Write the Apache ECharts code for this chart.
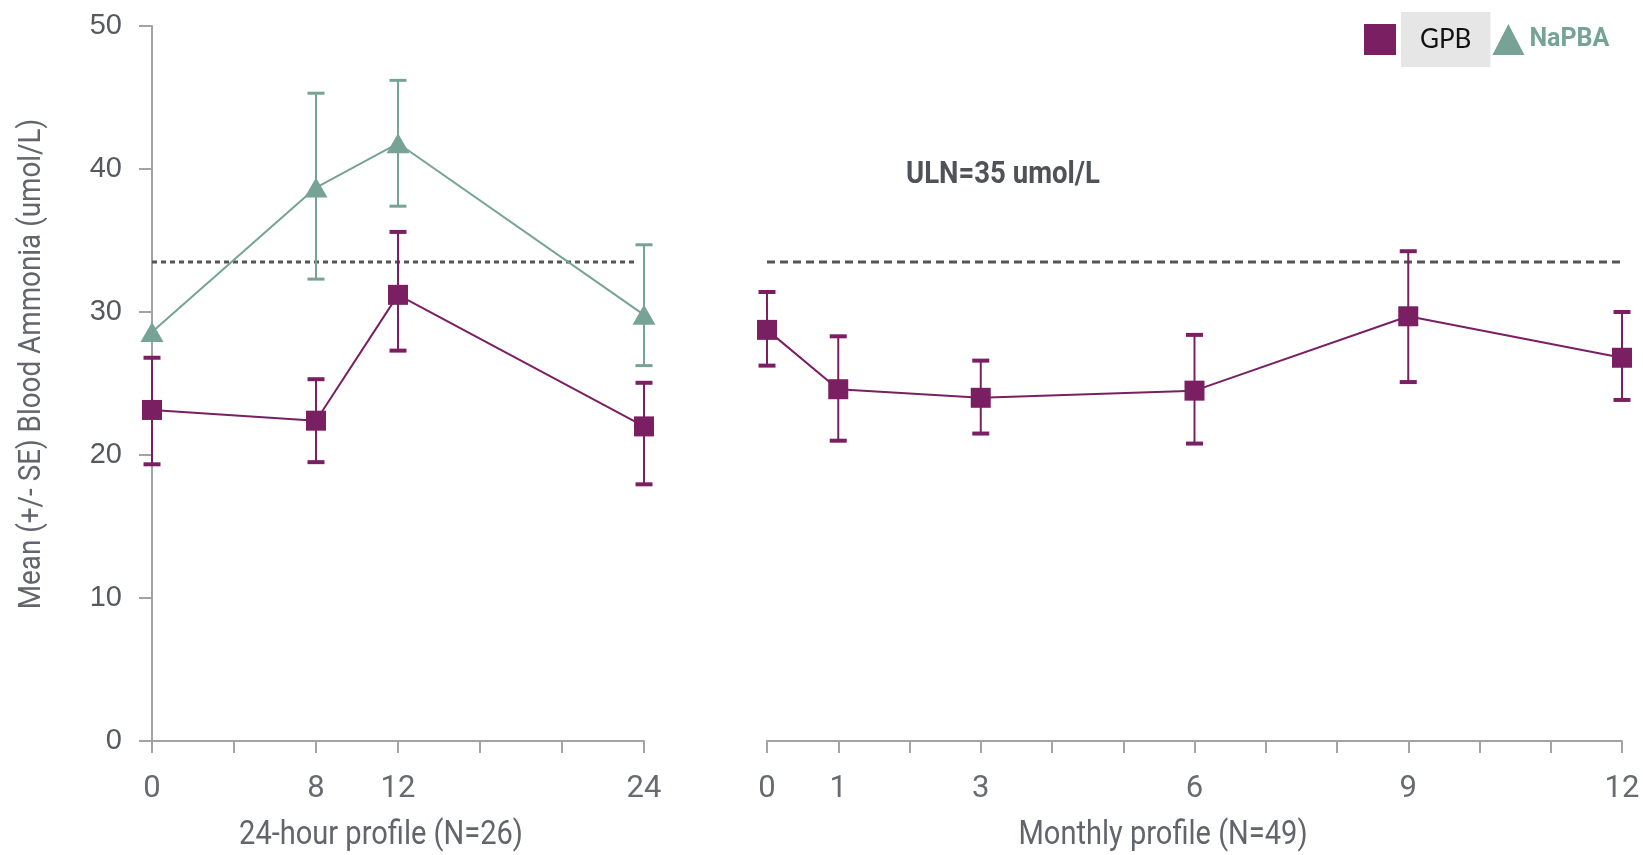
<!DOCTYPE html>
<html>
<head>
<meta charset="utf-8">
<script src="https://cdn.jsdelivr.net/npm/echarts@6/dist/echarts.min.js"></script>
<style>
html,body{margin:0;padding:0;background:#fff;}
#chart{width:1643px;height:855px;}
</style>
</head>
<body>
<div id="chart"></div>
<script>
// ---- data ----
const hourX = [0, 8, 12, 24];
const gpbHourMean = [23.15, 22.4, 31.2, 22.0];
const gpbHourLow = [19.35, 19.5, 27.3, 17.95];
const gpbHourHigh = [26.8, 25.3, 35.6, 25.05];
const napbaHourMean = [28.6, 38.7, 41.8, 29.8];
const napbaHourLow = [null, 32.3, 37.4, 26.25];
const napbaHourHigh = [null, 45.3, 46.2, 34.7];

const monthX = [0, 1, 3, 6, 9, 12];
const gpbMonthMean = [28.75, 24.6, 24.0, 24.5, 29.7, 26.8];
const gpbMonthLow = [26.25, 21.0, 21.5, 20.8, 25.1, 23.85];
const gpbMonthHigh = [31.4, 28.3, 26.6, 28.4, 34.25, 30.0];

const hourTickLabels = [0, 8, 12, 24];
const monthTickLabels = [0, 1, 3, 6, 9, 12];
const yTickLabels = [0, 10, 20, 30, 40, 50];

const ulnValue = 33.5;
const ulnHourRange = [0, 23.66];
const ulnMonthRange = [0, 12.15];

const legendNames = ['GPB', 'NaPBA'];
const ulnLabel = 'ULN=35 umol/L';
const yTitle = 'Mean (+/- SE) Blood Ammonia (umol/L)';
const hourTitle = '24-hour profile (N=26)';
const monthTitle = 'Monthly profile (N=49)';

// ---- styles ----
const PURPLE = '#7a1f62';
const TEAL = '#76a396';
const AXIS = '#a3a3a3';
const narrow = 'Roboto, "Liberation Sans", sans-serif';

const pairs = (xs, ys) => xs.map((x, i) => [x, ys[i]]);
const errData = (xs, lo, hi) => xs.map((x, i) => [x, lo[i], hi[i]]).filter(d => d[1] != null);

function errRender(capW, capH) {
  return function (params, api) {
    const x = api.value(0), lo = api.value(1), hi = api.value(2);
    const pHi = api.coord([x, hi]);
    const pLo = api.coord([x, lo]);
    const color = api.visual('color');
    return {
      type: 'group',
      children: [
        {type: 'line', shape: {x1: pHi[0], y1: pHi[1], x2: pLo[0], y2: pLo[1]}, style: {stroke: color, lineWidth: 2}},
        {type: 'rect', shape: {x: pHi[0] - capW / 2, y: pHi[1] - capH / 2, width: capW, height: capH}, style: {fill: color}},
        {type: 'rect', shape: {x: pLo[0] - capW / 2, y: pLo[1] - capH / 2, width: capW, height: capH}, style: {fill: color}}
      ]
    };
  };
}

const chart = echarts.init(document.getElementById('chart'));

const xLabelStyle = {fontFamily: narrow, fontSize: 31, color: '#676b71', margin: 33};

chart.setOption({
  animation: false,
  backgroundColor: '#fff',
  grid: [
    {left: 152, width: 492, top: 26, height: 715},
    {left: 767, width: 855, top: 26, height: 715}
  ],
  xAxis: [
    {
      gridIndex: 0, type: 'value', min: 0, max: 24, interval: 4,
      axisLine: {show: true, lineStyle: {color: AXIS, width: 2}},
      axisTick: {show: true, length: 12, lineStyle: {color: AXIS, width: 2}},
      axisLabel: Object.assign({}, xLabelStyle, {
        formatter: v => hourTickLabels.indexOf(v) >= 0 ? String(v) : ''
      }),
      splitLine: {show: false}
    },
    {
      gridIndex: 1, type: 'value', min: 0, max: 12, interval: 1,
      axisLine: {show: true, lineStyle: {color: AXIS, width: 2}},
      axisTick: {show: true, length: 12, lineStyle: {color: AXIS, width: 2}},
      axisLabel: Object.assign({}, xLabelStyle, {
        formatter: v => monthTickLabels.indexOf(v) >= 0 ? String(v) : ''
      }),
      splitLine: {show: false}
    }
  ],
  yAxis: [
    {
      gridIndex: 0, type: 'value', min: 0, max: 50, interval: 10,
      axisLine: {show: true, lineStyle: {color: AXIS, width: 2}},
      axisTick: {show: true, length: 13, lineStyle: {color: AXIS, width: 2}},
      axisLabel: {
        fontFamily: '"Liberation Sans", Arial, sans-serif', fontSize: 29, color: '#55595f', margin: 30,
        formatter: v => yTickLabels.indexOf(v) >= 0 ? String(v) : ''
      },
      splitLine: {show: false}
    },
    {
      gridIndex: 1, type: 'value', min: 0, max: 50, interval: 10,
      axisLine: {show: false}, axisTick: {show: false}, axisLabel: {show: false}, splitLine: {show: false}
    }
  ],
  legend: {
    left: 1359, top: 7,
    itemWidth: 32, itemHeight: 31, itemGap: 2,
    selectedMode: false,
    data: [
      {name: legendNames[0], icon: 'rect',
       textStyle: {fontFamily: 'Lato, "Open Sans", sans-serif', fontSize: 26, color: '#111', backgroundColor: '#e6e6e6', padding: [15, 19, 14, 19]}},
      {name: legendNames[1], icon: 'triangle',
       textStyle: {fontFamily: narrow, fontSize: 25, fontWeight: 'bold', color: TEAL}}
    ]
  },
  graphic: [
    {type: 'text', x: 32, y: 364, rotation: Math.PI / 2, scaleX: 0.87,
     style: {text: yTitle, fontFamily: narrow, fontSize: 32, fill: '#62656b', align: 'center', verticalAlign: 'middle'}},
    {type: 'text', x: 381, y: 836, scaleX: 0.88,
     style: {text: hourTitle, fontFamily: narrow, fontSize: 33, fill: '#62656b', align: 'center', verticalAlign: 'middle'}},
    {type: 'text', x: 1163, y: 836, scaleX: 0.88,
     style: {text: monthTitle, fontFamily: narrow, fontSize: 33, fill: '#62656b', align: 'center', verticalAlign: 'middle'}},
    {type: 'text', x: 1003, y: 175, scaleX: 0.86,
     style: {text: ulnLabel, fontFamily: narrow, fontSize: 32, fontWeight: 'bold', fill: '#4f5258', align: 'center', verticalAlign: 'middle'}}
  ],
  series: [
    // ULN reference lines
    {name: 'ULN-h', type: 'line', xAxisIndex: 0, yAxisIndex: 0, silent: true, symbol: 'none', clip: false, z: 1,
     data: ulnHourRange.map(x => [x, ulnValue]),
     lineStyle: {color: '#555', width: 3, type: [5, 4]}},
    {name: 'ULN-m', type: 'line', xAxisIndex: 1, yAxisIndex: 1, silent: true, symbol: 'none', clip: false, z: 1,
     data: ulnMonthRange.map(x => [x, ulnValue]),
     lineStyle: {color: '#555', width: 3, type: [8, 5]}},
    // error bars
    {name: 'NaPBA-err', type: 'custom', xAxisIndex: 0, yAxisIndex: 0, z: 2, clip: false,
     itemStyle: {color: TEAL}, renderItem: errRender(17, 3),
     encode: {x: 0, y: [1, 2]}, data: errData(hourX, napbaHourLow, napbaHourHigh)},
    {name: 'GPB-err-h', type: 'custom', xAxisIndex: 0, yAxisIndex: 0, z: 2, clip: false,
     itemStyle: {color: PURPLE}, renderItem: errRender(17, 4),
     encode: {x: 0, y: [1, 2]}, data: errData(hourX, gpbHourLow, gpbHourHigh)},
    {name: 'GPB-err-m', type: 'custom', xAxisIndex: 1, yAxisIndex: 1, z: 2, clip: false,
     itemStyle: {color: PURPLE}, renderItem: errRender(17, 4),
     encode: {x: 0, y: [1, 2]}, data: errData(monthX, gpbMonthLow, gpbMonthHigh)},
    // means
    {name: legendNames[1], type: 'line', xAxisIndex: 0, yAxisIndex: 0, z: 3,
     data: pairs(hourX, napbaHourMean), symbol: 'triangle', symbolSize: [23, 20],
     itemStyle: {color: TEAL}, lineStyle: {color: TEAL, width: 2}},
    {name: legendNames[0], type: 'line', xAxisIndex: 0, yAxisIndex: 0, z: 4,
     data: pairs(hourX, gpbHourMean), symbol: 'rect', symbolSize: 20,
     itemStyle: {color: PURPLE}, lineStyle: {color: PURPLE, width: 2}},
    {name: legendNames[0], type: 'line', xAxisIndex: 1, yAxisIndex: 1, z: 4,
     data: pairs(monthX, gpbMonthMean), symbol: 'rect', symbolSize: 20,
     itemStyle: {color: PURPLE}, lineStyle: {color: PURPLE, width: 2}}
  ]
});
</script>
</body>
</html>
